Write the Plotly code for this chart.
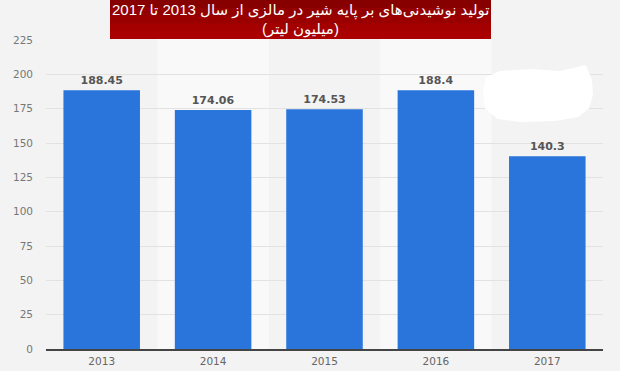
import plotly.graph_objects as go

years = ["2013", "2014", "2015", "2016", "2017"]
values = [188.45, 174.06, 174.53, 188.4, 140.3]
value_labels = ["188.45", "174.06", "174.53", "188.4", "140.3"]
y_ticks = [0, 25, 50, 75, 100, 125, 150, 175, 200, 225]
title_line1 = "تولید نوشیدنی‌های بر پایه شیر در مالزی از سال 2013 تا 2017"
title_line2 = "(میلیون لیتر)"

W, H = 620, 371
L, R, T, B = 46, 17, 40, 22
PW, PH = W - L - R, H - T - B

def px(x):
    return (x - L) / PW

def py(y):
    return (H - B - y) / PH

fig = go.Figure()
fig.add_trace(go.Bar(
    x=years, y=values,
    marker=dict(color="#2a75dc", line=dict(width=0)),
    text=value_labels, textposition="outside",
    textfont=dict(family="DejaVu Sans", size=11, color="#555555"),
    texttemplate="<b>%{text}</b>",
    cliponaxis=False,
    hoverinfo="skip",
))

shapes = []
# lighter column bands
for i in (1, 3):
    shapes.append(dict(type="rect", xref="x", yref="paper", x0=i - 0.5, x1=i + 0.5,
                       y0=0, y1=1.08, fillcolor="#f9f9f9", line=dict(width=0), layer="below"))
# title box (dark red vertical gradient, overlapping strips)
reds = ["#870000", "#920000", "#9b0000", "#a40000", "#ab0000"]
n = len(reds)
for k, c in enumerate(reds):
    y_top = 39 * k / n
    shapes.append(dict(type="rect", xref="paper", yref="paper",
                       x0=px(110), x1=px(491), y0=py(39), y1=py(y_top),
                       fillcolor=c, line=dict(width=0), layer="above"))
# white blob overlay
blob = [(487, 78), (500, 72), (530, 70), (560, 72), (578, 68), (585, 66), (591, 80),
        (592, 95), (588, 108), (578, 116), (555, 120), (520, 121), (498, 118), (486, 108), (484, 92)]
path = "M " + " L ".join(f"{px(x):.4f},{py(y):.4f}" for x, y in blob) + " Z"
shapes.append(dict(type="path", xref="paper", yref="paper", path=path,
                   fillcolor="#ffffff", line=dict(color="#ffffff", width=2), layer="above"))

title_font = dict(family="Liberation Sans, DejaVu Sans", size=15, color="#ffffff")

fig.update_layout(
    width=W, height=H,
    margin=dict(l=L, r=R, t=T, b=B),
    paper_bgcolor="#f3f3f3", plot_bgcolor="#f3f3f3",
    bargap=0.313,
    showlegend=False,
    font=dict(family="DejaVu Sans", size=11, color="#666666"),
    xaxis=dict(type="category", range=[-0.5, 4.5], showgrid=False, automargin=False,
               showline=True, linecolor="#444444", linewidth=1.5,
               ticks="", tickfont=dict(size=10.5, color="#666666"), ticklabelstandoff=2),
    yaxis=dict(range=[0, 225], tickvals=y_ticks, showgrid=True, gridcolor="#e2e2e2",
               gridwidth=1, zeroline=False, showline=False, ticks="", automargin=False,
               tickfont=dict(size=10.5, color="#777777"), ticklabelstandoff=12),
    shapes=shapes,
    annotations=[
        dict(xref="paper", yref="paper", x=px(300), y=py(11), text=title_line1,
             showarrow=False, font=title_font, xanchor="center", yanchor="middle"),
        dict(xref="paper", yref="paper", x=px(300), y=py(29), text=title_line2,
             showarrow=False, font=title_font, xanchor="center", yanchor="middle"),
    ],
)

fig.write_html("out.html")
